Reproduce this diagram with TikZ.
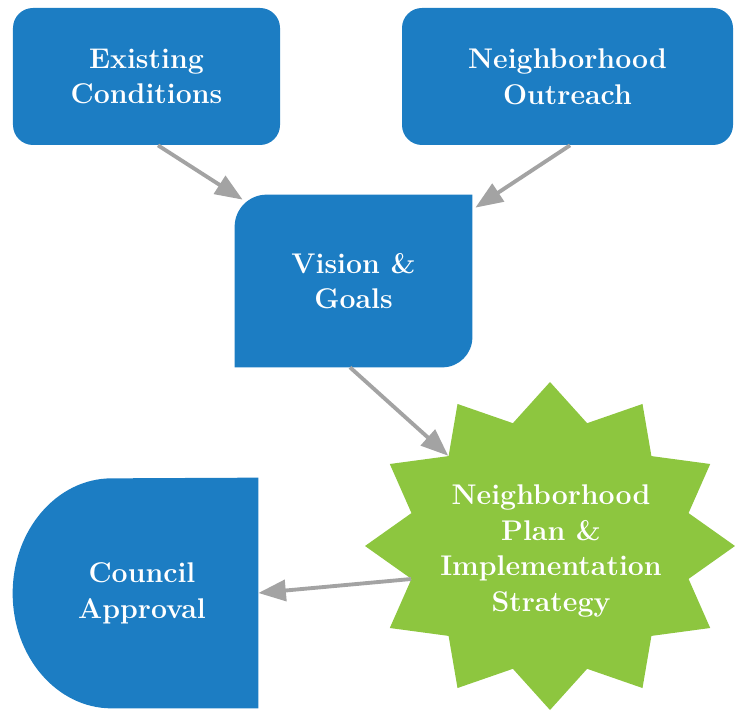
\documentclass[tikz,border=0pt]{standalone}
\usepackage{tikz}
\usetikzlibrary{shapes, arrows.meta, positioning, backgrounds}
\definecolor{plan_blue}{HTML}{1C7DC3}
\definecolor{plan_green}{HTML}{8DC63F}
\definecolor{arrow_gray}{HTML}{A3A3A3}
\tikzset{
    block/.style={rectangle, fill=plan_blue, rounded corners=0.4cm, text=white, align=center, font=\fontsize{16.2}{20.3}\selectfont\bfseries, minimum height=2.74cm},
    shapebox/.style={rectangle, text=white, align=center, font=\fontsize{16.2}{20.3}\selectfont\bfseries, inner sep=0},
    burst/.style={star, star points=12, star point ratio=1.29, fill=plan_green, minimum size=6.56cm, inner sep=0},
    arrow/.style={line width=2.2pt, draw=arrow_gray, -{Triangle[length=0.55cm, width=0.42cm]}}
}

\begin{document}
\begin{tikzpicture}
        \useasboundingbox (0, 0) rectangle (14.7, 14.2);

        \node (existing) [block, minimum width=5.34cm] at (2.93, 12.67) {Existing\\Conditions};
        \node (outreach) [block, minimum width=6.62cm] at (11.35, 12.67) {Neighborhood\\Outreach};
        \node (vision) [shapebox, minimum width=4.74cm, minimum height=3.44cm] at (7.07, 8.58) {Vision \&\\Goals};
        \node (burst) [burst, xscale=1.128] at (11.0, 3.28) {};
        \node (plan) [shapebox] at (11.02, 3.18) {Neighborhood\\Plan \&\\Implementation\\Strategy};
        \node (council) [shapebox, minimum width=4.64cm, minimum height=4.6cm] at (2.84, 2.34) {Council\\Approval};

        % Odd shapes behind the text
        \begin{pgfonlayer}{background}
            \fill[plan_blue] (vision.south west) -- ([yshift=-0.64cm]vision.north west) arc[start angle=180, end angle=90, radius=0.64cm] -- (vision.north east) -- ([yshift=0.6cm]vision.south east) arc[start angle=0, end angle=-90, radius=0.6cm] -- cycle;
            \fill[plan_blue] (council.north east) -- (council.south east) -- ([xshift=1.72cm]council.south west) arc[start angle=270, end angle=90, x radius=1.98cm, y radius=2.3cm] -- cycle;
        \end{pgfonlayer}

        % Connect steps
        \draw[arrow] ([xshift=0.23cm]existing.south) -- ([shift={(0.16,-0.1)}]vision.north west);
        \draw[arrow] ([xshift=0.05cm]outreach.south) -- ([shift={(0.06,-0.26)}]vision.north east);
        \draw[arrow] ([xshift=-0.07cm]vision.south) -- (burst.inner point 2);
        \draw[arrow] (burst.inner point 4) -- (council.east);

    \end{tikzpicture}
\end{document}
